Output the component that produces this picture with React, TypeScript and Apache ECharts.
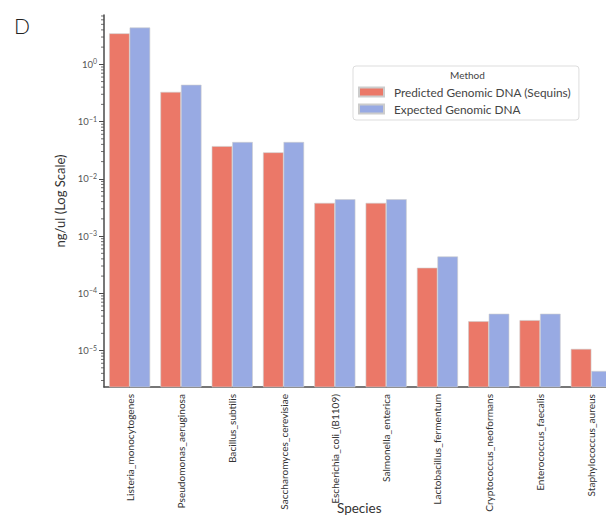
import React, { useEffect, useRef } from "react";
import * as echarts from "echarts";

const categories = [
  "Listeria_monocytogenes",
  "Pseudomonas_aeruginosa",
  "Bacillus_subtilis",
  "Saccharomyces_cerevisiae",
  "Escherichia_coli_(B1109)",
  "Salmonella_enterica",
  "Lactobacillus_fermentum",
  "Cryptococcus_neoformans",
  "Enterococcus_faecalis",
  "Staphylococcus_aureus",
];
const predicted = [3.48, 0.33, 0.0373, 0.029, 0.0038, 0.0038, 0.00028, 3.25e-5, 3.4e-5, 1.07e-5];
const expected = [4.4, 0.44, 0.044, 0.044, 0.0044, 0.0044, 0.00044, 4.4e-5, 4.4e-5, 4.4e-6];
const yMin = 2.31e-6;
const yMax = 7.28;
// tiny invisible base so that bars on the log axis grow from the bottom of the axis
const barBase = 1e-12;
const minorTicks = [
  3e-6, 4e-6, 5e-6, 6e-6, 7e-6, 8e-6, 9e-6,
  2e-5, 3e-5, 4e-5, 5e-5, 6e-5, 7e-5, 8e-5, 9e-5,
  2e-4, 3e-4, 4e-4, 5e-4, 6e-4, 7e-4, 8e-4, 9e-4,
  2e-3, 3e-3, 4e-3, 5e-3, 6e-3, 7e-3, 8e-3, 9e-3,
  2e-2, 3e-2, 4e-2, 5e-2, 6e-2, 7e-2, 8e-2, 9e-2,
  0.2, 0.3, 0.4, 0.5, 0.6, 0.7, 0.8, 0.9,
  2, 3, 4, 5, 6, 7,
];

const FONT = "Lato";
const RED = "#EB7868";
const BLUE = "#98AAE3";
const AXIS = "#4a4a4a";

export default function App() {
  const ref = useRef<HTMLDivElement>(null);
  useEffect(() => {
    if (!ref.current) return;
    const chart = echarts.init(ref.current, undefined, { renderer: "svg" });
    const baseData = categories.map(() => barBase);
    chart.setOption({
      animation: false,
      textStyle: { fontFamily: FONT },
      grid: {
        left: 104,
        right: -11,
        top: 15,
        bottom: 130,
        containLabel: false,
        outerBoundsMode: "none",
      },
      title: {
        text: "D",
        left: 9,
        top: 10,
        textStyle: { fontFamily: FONT, fontSize: 21, fontWeight: 300, color: "#222" },
      },
      legend: {
        data: ["Predicted Genomic DNA (Sequins)", "Expected Genomic DNA"],
        orient: "vertical",
        left: 353,
        top: 66,
        padding: [20, 8, 5, 5],
        itemWidth: 25,
        itemHeight: 9,
        itemGap: 5,
        borderColor: "#dddddd",
        borderWidth: 1,
        borderRadius: 3,
        backgroundColor: "#fff",
        icon: "rect",
        textStyle: { fontFamily: FONT, fontSize: 11.8, color: "#444", padding: [0, 0, 0, 5] },
      },
      graphic: [
        {
          type: "text",
          left: 450,
          top: 70,
          style: { text: "Method", fontFamily: FONT, fontSize: 10, fill: "#444" },
          z: 100,
        },
        {
          type: "text",
          left: 337,
          top: 501,
          style: { text: "Species", fontFamily: FONT, fontSize: 13.5, fill: "#333" },
          z: 100,
        },
      ],
      xAxis: {
        type: "category",
        data: categories,
        axisLine: { lineStyle: { color: AXIS, width: 1.5 } },
        axisTick: { alignWithLabel: true, length: 4, lineStyle: { color: AXIS, width: 1 } },
        axisLabel: {
          rotate: 90,
          fontSize: 10.1,
          color: "#333",
          margin: 7,
          fontFamily: FONT,
          overflow: "none",
          hideOverlap: false,
        },
      },
      yAxis: {
        type: "log",
        logBase: 10,
        min: yMin,
        max: yMax,
        name: "ng/ul (Log Scale)",
        nameLocation: "middle",
        nameGap: 27,
        nameTextStyle: { fontFamily: FONT, fontSize: 13, color: "#333" },
        axisLine: { show: true, lineStyle: { color: AXIS, width: 1.5 } },
        axisTick: { show: true, length: 5, lineStyle: { color: AXIS, width: 1 } },
        splitLine: { show: false },
        axisLabel: {
          showMinLabel: false,
          showMaxLabel: false,
          margin: 7,
          formatter: (v: number) => {
            const e = Math.round(Math.log10(v));
            const s = e < 0 ? "\u2212" + String(-e) : String(e);
            return "{b|10}{s|" + s + "}";
          },
          rich: {
            b: { fontSize: 9.5, color: "#555", fontFamily: FONT },
            s: { fontSize: 7, color: "#555", fontFamily: FONT, padding: [0, 0, 6, 0] },
          },
        },
      },
      series: [
        {
          name: "baseA",
          type: "bar",
          stack: "a",
          data: baseData,
          barGap: "0%",
          barCategoryGap: "20%",
          silent: true,
          itemStyle: { color: "rgba(0,0,0,0)" },
        },
        {
          name: "Predicted Genomic DNA (Sequins)",
          type: "bar",
          stack: "a",
          data: predicted,
          barGap: "0%",
          barCategoryGap: "20%",
          itemStyle: { color: RED, borderColor: "#cccccc", borderWidth: 0.6 },
        },
        {
          name: "baseB",
          type: "bar",
          stack: "b",
          data: baseData,
          barGap: "0%",
          barCategoryGap: "20%",
          silent: true,
          itemStyle: { color: "rgba(0,0,0,0)" },
        },
        {
          name: "Expected Genomic DNA",
          type: "bar",
          stack: "b",
          data: expected,
          barGap: "0%",
          barCategoryGap: "20%",
          itemStyle: { color: BLUE, borderColor: "#cccccc", borderWidth: 0.6 },
        },
        {
          name: "minor",
          type: "custom",
          clip: false,
          silent: true,
          z: 10,
          data: minorTicks.map((v) => [0, v]),
          renderItem: (params: any, api: any) => {
            const y = api.coord([0, api.value(1)])[1];
            const x0 = params.coordSys.x;
            return {
              type: "line",
              shape: { x1: x0 - 3, y1: y, x2: x0, y2: y },
              style: { stroke: AXIS, lineWidth: 0.8 },
            };
          },
        },
      ],
    });
    return () => chart.dispose();
  }, []);
  return (
    <div
      ref={ref}
      style={{ position: "absolute", left: 0, top: 0, width: 606, height: 517 }}
    />
  );
}
